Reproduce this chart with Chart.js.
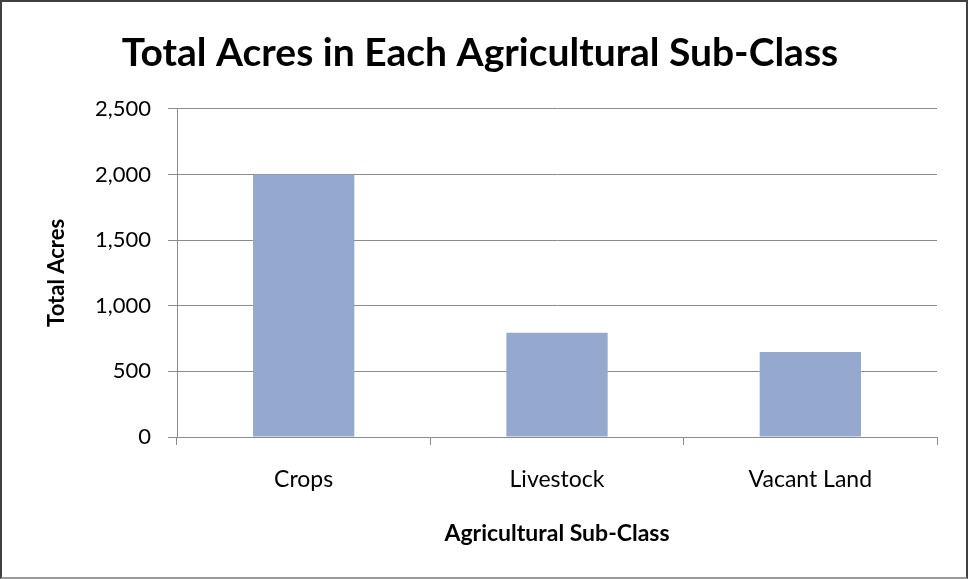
<!DOCTYPE html>
<html>
<head>
<meta charset="utf-8">
<script src="https://cdn.jsdelivr.net/npm/chart.js@4"></script>
<style>
  html, body { margin: 0; padding: 0; background: #fff; }
  #wrap { position: relative; width: 968px; height: 579px; }
  #frame { position: absolute; left: 0; top: 0; width: 968px; height: 579px; box-sizing: border-box;
           border: 2px solid #404040; border-bottom-color: #9a9a9a; pointer-events: none; }
  canvas { position: absolute; left: 0; top: 0; }
</style>
</head>
<body>
<div id="wrap">
  <canvas id="chart" width="968" height="579"></canvas>
  <div id="frame"></div>
</div>
<script>
const categories = ['Crops', 'Livestock', 'Vacant Land'];
const acres = [2000, 795, 648];
const yTicks = [0, 500, 1000, 1500, 2000, 2500];

const gridColor = '#8c8c8c';
const fontFamily = 'Lato, "Open Sans", sans-serif';

new Chart(document.getElementById('chart').getContext('2d'), {
    type: 'bar',
    data: {
        labels: categories,
        datasets: [{
            label: 'Total Acres',
            data: acres,
            backgroundColor: '#95a9cf',
            borderWidth: 0,
            barPercentage: 0.4,
            categoryPercentage: 1
        }]
    },
    options: {
        responsive: false,
        animation: false,
        layout: { padding: { left: 0, right: 8, top: 0, bottom: 0 } },
        plugins: {
            legend: { display: false },
            tooltip: { enabled: false },
            title: {
                display: true,
                text: 'Total Acres in Each Agricultural Sub-Class',
                color: '#000',
                font: { family: fontFamily, size: 39, weight: 'bold' },
                padding: { top: 30, bottom: 32 }
            }
        },
        scales: {
            x: {
                grid: {
                    offset: true,
                    drawOnChartArea: false,
                    drawTicks: true,
                    tickLength: 8,
                    color: gridColor
                },
                border: { display: true, color: gridColor },
                ticks: {
                    color: '#000',
                    font: { family: fontFamily, size: 23 },
                    padding: 21,
                    maxRotation: 0
                },
                title: {
                    display: true,
                    text: 'Agricultural Sub-Class',
                    color: '#000',
                    font: { family: fontFamily, size: 23, weight: 'bold' },
                    padding: { top: 0, bottom: 32 }
                },
                afterFit: scale => { scale.height = 142; }
            },
            y: {
                min: 0,
                max: 2500,
                afterBuildTicks: scale => { scale.ticks = yTicks.map(v => ({ value: v })); },
                grid: {
                    color: gridColor,
                    drawTicks: true,
                    tickLength: 9
                },
                border: { display: true, color: gridColor },
                ticks: {
                    color: '#000',
                    font: { family: fontFamily, size: 22 },
                    padding: 17,
                    callback: v => v.toLocaleString('en-US')
                },
                title: {
                    display: true,
                    text: 'Total Acres',
                    color: '#000',
                    font: { family: fontFamily, size: 22, weight: 'bold' },
                    padding: { top: 44, bottom: 0 }
                },
                afterFit: scale => { scale.width = 177; }
            },
            // empty right-hand axis, only keeps the plot area's right edge where the reference has it
            yRight: {
                position: 'right',
                grid: { display: false },
                border: { display: false },
                ticks: { display: false },
                afterFit: scale => { scale.width = 23; }
            }
        }
    }
});
</script>
</body>
</html>
